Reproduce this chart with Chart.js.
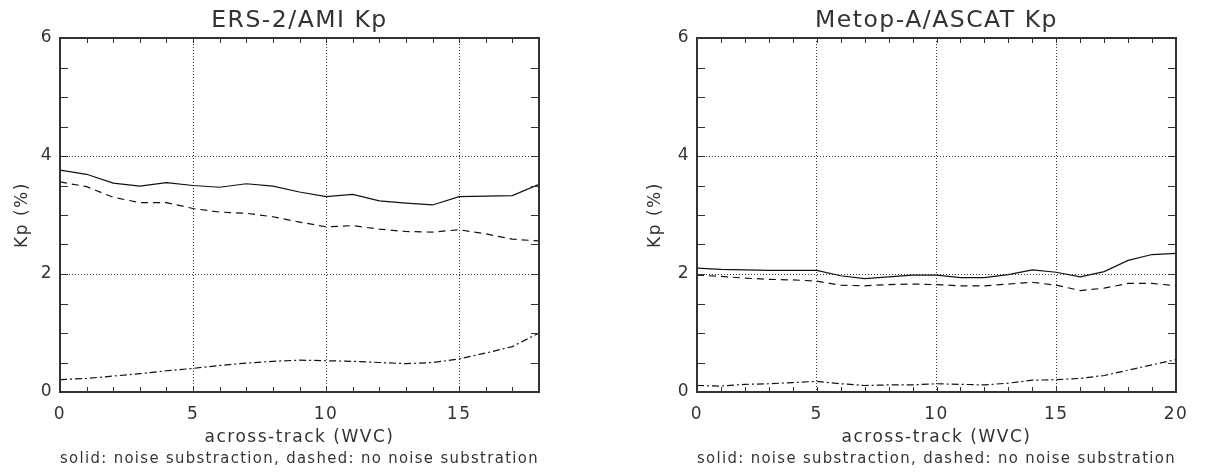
<!DOCTYPE html>
<html>
<head>
<meta charset="utf-8">
<script src="https://cdn.jsdelivr.net/npm/chart.js@4"></script>
<style>
  body { margin: 0; background: #fff; }
  #wrap { position: relative; width: 1213px; height: 475px; }
  canvas { position: absolute; top: 0; }
</style>
</head>
<body>
<div id="wrap">
  <canvas id="ers" width="606" height="475" style="left:0"></canvas>
  <canvas id="metop" width="607" height="475" style="left:606px"></canvas>
</div>
<script>
// ERS-2/AMI, WVC 0..18
const ersWvc = [0, 1, 2, 3, 4, 5, 6, 7, 8, 9, 10, 11, 12, 13, 14, 15, 16, 17, 18];
const ersSolid = [3.76, 3.69, 3.54, 3.49, 3.55, 3.50, 3.47, 3.53, 3.49, 3.39, 3.31, 3.35, 3.24, 3.20, 3.17, 3.31, 3.32, 3.33, 3.52];
const ersDashed = [3.56, 3.48, 3.30, 3.21, 3.21, 3.11, 3.05, 3.03, 2.97, 2.88, 2.80, 2.82, 2.76, 2.72, 2.71, 2.75, 2.68, 2.59, 2.56];
const ersDashDot = [0.21, 0.23, 0.27, 0.31, 0.36, 0.40, 0.45, 0.49, 0.52, 0.54, 0.53, 0.52, 0.50, 0.48, 0.50, 0.56, 0.66, 0.77, 1.00];

// Metop-A/ASCAT, WVC 0..20
const metopWvc = [0, 1, 2, 3, 4, 5, 6, 7, 8, 9, 10, 11, 12, 13, 14, 15, 16, 17, 18, 19, 20];
const metopSolid = [2.10, 2.08, 2.07, 2.06, 2.06, 2.06, 1.97, 1.92, 1.95, 1.98, 1.98, 1.94, 1.94, 1.99, 2.07, 2.03, 1.95, 2.04, 2.23, 2.33, 2.35];
const metopDashed = [1.98, 1.96, 1.93, 1.91, 1.90, 1.88, 1.81, 1.80, 1.82, 1.83, 1.82, 1.80, 1.80, 1.83, 1.86, 1.81, 1.72, 1.76, 1.84, 1.84, 1.80];
const metopDashDot = [0.11, 0.10, 0.13, 0.14, 0.16, 0.18, 0.14, 0.11, 0.12, 0.12, 0.14, 0.13, 0.12, 0.15, 0.20, 0.21, 0.23, 0.28, 0.37, 0.46, 0.55];

// tick labels and dotted grid positions
const xTickLabels = [0, 5, 10, 15, 20];
const yTickLabels = [0, 2, 4, 6];
const xGrid = [5, 10, 15];
const yGrid = [2, 4];

const ink = '#333';
const font = 'DejaVu Sans';

// frame with inward ticks, IDL style
const framePlugin = {
    id: 'frame',
    beforeDraw(chart) {
        chart.ctx.letterSpacing = '1.5px';
    },
    afterDatasetsDraw(chart) {
        const ctx = chart.ctx;
        const a = chart.chartArea;
        const x = chart.scales.x, y = chart.scales.y;
        ctx.save();
        ctx.strokeStyle = ink;
        ctx.lineWidth = 1;
        ctx.beginPath();
        x.ticks.forEach(t => {
            const px = Math.round(x.getPixelForValue(t.value)) + 0.5;
            ctx.moveTo(px, a.bottom); ctx.lineTo(px, a.bottom - 5);
            ctx.moveTo(px, a.top); ctx.lineTo(px, a.top + 5);
        });
        y.ticks.forEach(t => {
            const py = Math.round(y.getPixelForValue(t.value)) + 0.5;
            ctx.moveTo(a.left, py); ctx.lineTo(a.left + 8, py);
            ctx.moveTo(a.right, py); ctx.lineTo(a.right - 8, py);
        });
        ctx.stroke();
        ctx.lineWidth = 2;
        ctx.strokeRect(a.left, a.top, a.width, a.height);
        ctx.restore();
    }
};

function pairs(xs, ys) {
    return ys.map((v, i) => ({ x: xs[i], y: v }));
}

function createChart(canvasId, title, wvc, solid, dashed, dashDot, yAxisWidth, padRight, yTitlePad) {
    const ctx = document.getElementById(canvasId).getContext('2d');
    const line = { borderColor: '#111', borderWidth: 1.2, pointRadius: 0, tension: 0, fill: false };
    new Chart(ctx, {
        type: 'line',
        data: {
            datasets: [
                Object.assign({ label: 'solid', data: pairs(wvc, solid) }, line),
                Object.assign({ label: 'dashed', data: pairs(wvc, dashed), borderDash: [7, 5] }, line),
                Object.assign({ label: 'dash-dot', data: pairs(wvc, dashDot), borderDash: [7, 3, 2, 3] }, line)
            ]
        },
        options: {
            responsive: false,
            animation: false,
            layout: { padding: { left: 0, right: padRight, top: 0, bottom: 0 } },
            plugins: {
                legend: { display: false },
                tooltip: { enabled: false },
                title: {
                    display: true, text: title, color: ink, fullSize: false,
                    font: { family: font, size: 23.5, weight: 'normal' },
                    padding: { top: 6.9, bottom: 2.9 }
                },
                subtitle: {
                    display: true, position: 'bottom', fullSize: false, color: ink,
                    text: 'solid: noise substraction, dashed: no noise substration',
                    font: { family: font, size: 16.5, weight: 'normal' },
                    padding: { top: 0, bottom: 6.1 }
                }
            },
            scales: {
                x: {
                    type: 'linear', min: 0, max: wvc[wvc.length - 1],
                    afterFit: s => { s.height = 57.1; },
                    ticks: {
                        stepSize: 1, autoSkip: false, maxRotation: 0, padding: 12, color: ink,
                        font: { family: font, size: 17 },
                        callback: v => xTickLabels.includes(v) ? String(v) : ''
                    },
                    grid: {
                        drawTicks: false,
                        color: c => xGrid.includes(c.tick.value) ? ink : 'rgba(0,0,0,0)'
                    },
                    border: { display: false, dash: [1, 2] },
                    title: {
                        display: true, text: 'across-track (WVC)', color: ink,
                        font: { family: font, size: 17 }, padding: { top: 0, bottom: 0.9 }
                    }
                },
                y: {
                    min: 0, max: 6,
                    afterFit: s => { s.width = yAxisWidth; },
                    ticks: {
                        stepSize: 0.5, autoSkip: false, padding: 7, color: ink,
                        font: { family: font, size: 17 },
                        callback: v => yTickLabels.includes(v) ? String(v) : ''
                    },
                    grid: {
                        drawTicks: false,
                        color: c => yGrid.includes(c.tick.value) ? ink : 'rgba(0,0,0,0)'
                    },
                    border: { display: false, dash: [1, 2] },
                    title: {
                        display: true, text: 'Kp (%)', color: ink,
                        font: { family: font, size: 17 }, padding: { top: yTitlePad, bottom: 0 }
                    }
                }
            }
        },
        plugins: [framePlugin]
    });
}

createChart('ers', 'ERS-2/AMI Kp', ersWvc, ersSolid, ersDashed, ersDashDot, 60, 67, 12.8);
createChart('metop', 'Metop-A/ASCAT Kp', metopWvc, metopSolid, metopDashed, metopDashDot, 91, 37, 39.3);
</script>
</body>
</html>
